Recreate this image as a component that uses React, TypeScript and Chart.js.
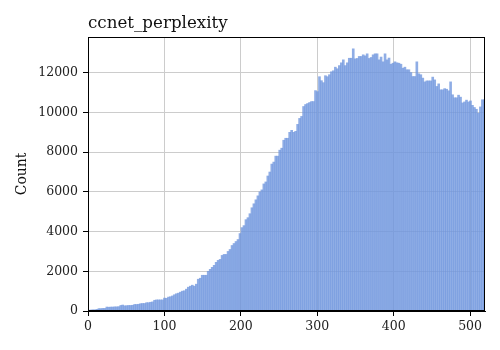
import React, { useEffect, useRef } from "react";
import { Chart, registerables } from "chart.js";

Chart.register(...registerables);

const TITLE = "ccnet_perplexity";
const Y_LABEL = "Count";
const BIN_WIDTH = 2.6;
const X_TICKS = [0, 100, 200, 300, 400, 500];
const Y_TICKS = [0, 2000, 4000, 6000, 8000, 10000, 12000];

const COUNTS: number[] = [
  40, 50, 60, 60, 80, 120, 120, 130, 130, 200,
  190, 200, 200, 210, 210, 220, 280, 300, 260, 270,
  280, 280, 290, 330, 330, 340, 370, 380, 380, 420,
  420, 440, 460, 540, 560, 560, 560, 560, 650, 640,
  700, 720, 760, 820, 870, 900, 950, 1000, 1020, 1100,
  1200, 1250, 1300, 1250, 1350, 1600, 1650, 1800, 1800, 1800,
  2000, 2100, 2200, 2300, 2450, 2550, 2600, 2800, 2850, 2850,
  3000, 3100, 3300, 3400, 3500, 3600, 3900, 4200, 4300, 4600,
  4700, 4900, 5200, 5400, 5600, 5800, 6000, 6100, 6400, 6500,
  6800, 7000, 7400, 7500, 7800, 7800, 8100, 8200, 8600, 8700,
  8700, 9000, 9100, 9000, 9050, 9400, 9700, 9800, 10300, 10400,
  10450, 10500, 10550, 10550, 11100, 11050, 11800, 11600, 11500, 11850,
  11800, 11900, 12050, 12100, 12280, 12200, 12360, 12500, 12650, 12360,
  12500, 12730, 12730, 13200, 12700, 12720, 12820, 12820, 12900, 12850,
  12950, 12720, 12770, 12900, 12950, 12950, 12650, 12790, 12550, 12950,
  12650, 12740, 12430, 12480, 12550, 12500, 12480, 12430, 12230, 12280,
  12150, 12150, 12010, 11810, 11810, 12550, 11950, 11900, 11730, 11540,
  11590, 11590, 11590, 11780, 11640, 11310, 11440, 11140, 11140, 11200,
  11170, 11090, 11540, 10890, 10740, 10740, 10870, 10770, 10480, 10530,
  10620, 10530, 10580, 10360, 10250, 10160, 9960, 10280, 10640, 10640,
];

const FONT = "'DejaVu Serif', serif";

const framePlugin = {
  id: "frameAndTitle",
  afterDraw(chart: any) {
    const { ctx, chartArea } = chart;
    ctx.save();
    ctx.strokeStyle = "#000";
    ctx.lineWidth = 1;
    ctx.strokeRect(
      Math.round(chartArea.left) + 0.5,
      Math.round(chartArea.top) + 0.5,
      Math.round(chartArea.right - chartArea.left) - 1,
      Math.round(chartArea.bottom - chartArea.top) - 1
    );
    ctx.fillStyle = "#111";
    ctx.font = `16.7px ${FONT}`;
    ctx.textAlign = "left";
    ctx.textBaseline = "alphabetic";
    ctx.fillText(TITLE, chartArea.left, 28);
    ctx.restore();
  },
};

export default function App() {
  const ref = useRef<HTMLCanvasElement | null>(null);

  useEffect(() => {
    if (!ref.current) return;
    const data = COUNTS.map((v, i) => ({ x: BIN_WIDTH * i + BIN_WIDTH / 2, y: v }));
    const chart = new Chart(ref.current, {
      type: "bar",
      data: {
        datasets: [
          {
            data: data as any,
            backgroundColor: "rgba(112,150,222,0.78)",
            borderWidth: 0,
            barPercentage: 1,
            categoryPercentage: 1,
          },
        ],
      },
      plugins: [framePlugin],
      options: {
        responsive: false,
        animation: false,
        layout: { padding: { top: 37, right: 15, left: 0, bottom: 0 } },
        plugins: {
          legend: { display: false },
          tooltip: { enabled: false },
          title: { display: false },
        },
        scales: {
          x: {
            type: "linear",
            offset: false,
            min: 0,
            max: 519.5,
            afterBuildTicks: (scale: any) => {
              scale.ticks = X_TICKS.map((v) => ({ value: v }));
            },
            afterFit: (scale: any) => {
              scale.height = 39;
            },
            grid: {
              offset: false,
              color: "#cccccc",
              lineWidth: 1,
              tickColor: "#000",
              tickLength: 5,
              drawOnChartArea: true,
            },
            border: { display: true, color: "#000", width: 1 },
            ticks: {
              color: "#222",
              font: { family: FONT, size: 12.5 },
              padding: 3,
              maxRotation: 0,
              autoSkip: false,
            },
          },
          y: {
            type: "linear",
            min: 0,
            max: 13800,
            afterBuildTicks: (scale: any) => {
              scale.ticks = Y_TICKS.map((v) => ({ value: v }));
            },
            afterFit: (scale: any) => {
              scale.width = 88;
            },
            grid: {
              color: "#cccccc",
              lineWidth: 1,
              tickColor: "#000",
              tickLength: 5,
            },
            border: { display: true, color: "#000", width: 1 },
            ticks: {
              color: "#222",
              font: { family: FONT, size: 12.5 },
              padding: 5,
              autoSkip: false,
              callback: (v: any) => String(v),
            },
            title: {
              display: true,
              text: Y_LABEL,
              color: "#111",
              font: { family: FONT, size: 13.9 },
              padding: { top: 14, bottom: 0 },
            },
          },
        },
      },
    });
    return () => chart.destroy();
  }, []);

  return (
    <div style={{ position: "fixed", left: 0, top: 0, width: 500, height: 350, background: "#fff" }}>
      <canvas ref={ref} width={500} height={350} style={{ display: "block" }} />
    </div>
  );
}
